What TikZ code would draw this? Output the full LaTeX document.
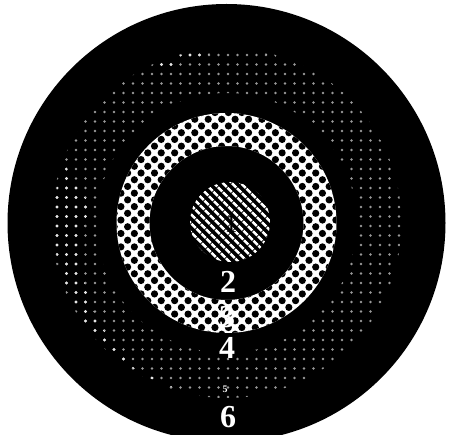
\documentclass[tikz,border=0pt]{standalone}
\usepackage{fontspec}
\setmainfont{Liberation Serif}
\usetikzlibrary{patterns.meta}
\tikzset{
  lbl/.style={text=white,font=\fontsize{32}{32}\selectfont\bfseries,inner sep=0pt},
  gridring/.style={pattern={Rectangles[width=2.6pt,height=2.2pt,distance=9.5pt]}},
}
\begin{document}
\begin{tikzpicture}[x=1pt,y=-1pt]
\useasboundingbox (0,0) rectangle (453,435);
\fill[white] (0,0) rectangle (453,435);
\coordinate (c) at (226.5,223);
% outer black disk
\fill[black] (c) circle (219);
% sparse grid ring
\fill[even odd rule,pattern={Dots[distance=9.5pt,radius=1.3pt]},pattern color=gray!80] (c) circle (175) (c) circle (130);
\fill[pattern={Dots[distance=9.5pt,radius=1.6pt]},pattern color=white!90!black]
  (c) ++(200:173) arc (200:95:173) -- ++(0,0) arc (95:200:142) -- cycle;
\fill[pattern={Dots[distance=9.5pt,radius=1.6pt]},pattern color=white!90!black]
  (c) ++(240:174) arc (240:295:174) -- ++(0,0) arc (295:240:148) -- cycle;
% dotted ring
\fill[white,even odd rule] (c) circle (110) (c) circle (77);
\fill[even odd rule,pattern={Dots[distance=9.5pt,radius=3.6pt,angle=45]},pattern color=black] (c) circle (110) (c) circle (77);
% hatched core
\node[circle,minimum size=80pt,inner sep=0pt,fill=black,pattern={Lines[angle=-45,distance=6.5pt,line width=2.8pt]},pattern color=white] (core) at (230,222) {};
\node[text=black,font=\fontsize{26}{26}\selectfont,inner sep=0pt] (l1) at (231,224) {1};
% labels
\node[lbl] (l2) at (228,282) {2};
\node[lbl] (l3) at (227,317) {3};
\node[lbl] (l4) at (227,348) {4};
\node[text=white,font=\fontsize{10}{10}\selectfont\bfseries,inner sep=0pt] (l5) at (225,389) {5};
\node[lbl] (l6) at (228,417) {6};
\end{tikzpicture}
\end{document}
